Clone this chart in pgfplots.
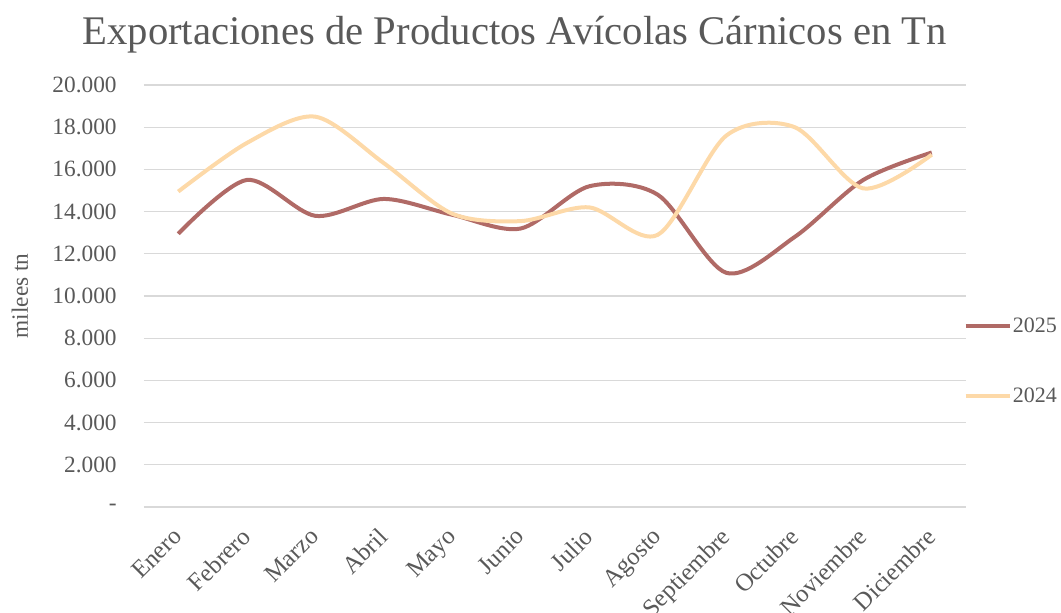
\documentclass[border=0pt]{standalone}
\usepackage{fontspec}
\setmainfont{Liberation Serif}
\usepackage{pgfplots}
\pgfplotsset{compat=1.18}

\definecolor{rojo25}{HTML}{B06A66}
\definecolor{crema24}{HTML}{FDD9A8}
\definecolor{rejilla}{HTML}{D9D9D9}
\definecolor{texto}{HTML}{595959}

\begin{document}
\begin{tikzpicture}
\useasboundingbox (0,0) rectangle (795.75pt,459pt);
\node[text=texto, font=\fontsize{30.5}{34}\selectfont] at (386pt,433pt) {Exportaciones de Productos Avícolas Cárnicos en Tn};
\begin{axis}[
    at={(108pt,78.75pt)}, anchor=south west,
    scale only axis,
    width=616.5pt, height=316.5pt,
    xmin=-0.5, xmax=11.5,
    ymin=0, ymax=20000,
    scaled y ticks=false,
    xtick={0,...,11},
    xticklabels={Enero,Febrero,Marzo,Abril,Mayo,Junio,Julio,Agosto,Septiembre,Octubre,Noviembre,Diciembre},
    ytick={0,2000,...,20000},
    yticklabels={-,2.000,4.000,6.000,8.000,10.000,12.000,14.000,16.000,18.000,20.000},
    x tick label style={xshift=-5pt, yshift=-13pt, rotate=45, anchor=north east, inner sep=1pt, font=\fontsize{18.5}{21}\selectfont},
    y tick label style={xshift=-17pt, font=\fontsize{17.5}{20}\selectfont},
    tick label style={text=texto},
    major tick length=0pt,
    ymajorgrids,
    grid style={rejilla, line width=0.9pt},
    axis line style={draw=none},
    ylabel={milees tn},
    ylabel style={font=\fontsize{17.5}{20}\selectfont, text=texto, at={(axis description cs:-0.151,0.5)}, anchor=center},
    legend style={at={(1,0.346)}, anchor=west, xshift=-2pt, draw=none, fill=none,
        font=\fontsize{16.5}{19}\selectfont, text=texto, row sep=36pt, inner xsep=0pt,
        nodes={inner xsep=1pt}},
    legend cell align=left,
    legend image code/.code={\draw[#1] (0pt,0pt) -- (33pt,0pt);},
    clip=false,
]
\addplot[rojo25, line width=3pt, smooth] coordinates {
    (0,12950) (1,15500) (2,13800) (3,14600) (4,13850) (5,13200)
    (6,15200) (7,14800) (8,11100) (9,12800) (10,15500) (11,16800)};
\addlegendentry{2025}
\addplot[crema24, line width=3pt, smooth] coordinates {
    (0,14950) (1,17250) (2,18500) (3,16300) (4,13900) (5,13550)
    (6,14200) (7,12900) (8,17600) (9,18000) (10,15100) (11,16700)};
\addlegendentry{2024}
\end{axis}
\end{tikzpicture}
\end{document}
